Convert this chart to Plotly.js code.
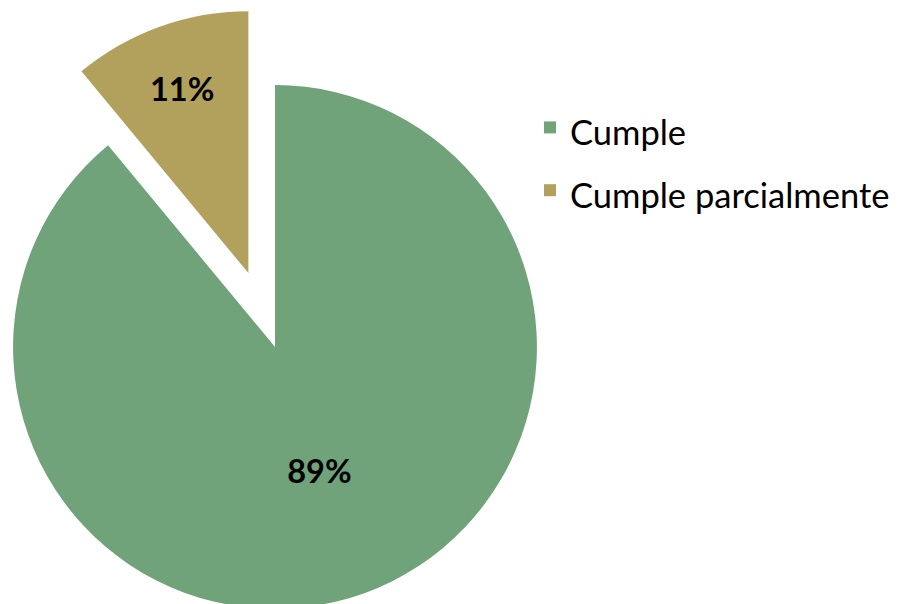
<!DOCTYPE html>
<html>
<head>
<meta charset="utf-8">
<script src="https://cdn.plot.ly/plotly-3.0.1.min.js"></script>
<style>
html, body { margin: 0; padding: 0; overflow: hidden; background: #ffffff; width: 899px; height: 604px; }
#chart { position: absolute; left: -100px; top: -100px; width: 1100px; height: 1000px; }
</style>
</head>
<body>
<div id="chart"></div>
<script>
const categories = ['Cumple', 'Cumple parcialmente'];
const values = [89, 11];
const colors = ['#71A37A', '#B2A15C'];
const pulls = [0, 0.30];

const W = 1100, H = 1000;
const cx = 375, cy = 447, half = 340.5;

const trace = {
  type: 'pie',
  labels: categories.map(c => '<span style="font-size:34.5px">' + c + '</span>'),
  values: values,
  marker: { colors: colors, line: { width: 0 } },
  pull: pulls,
  sort: false,
  direction: 'clockwise',
  rotation: 0,
  textinfo: 'percent',
  textposition: 'inside',
  insidetextorientation: 'horizontal',
  textfont: { family: 'Lato', size: 32.5, weight: 'bold', color: '#000000' },
  hoverinfo: 'label+percent',
  domain: { x: [(cx - half) / W, (cx + half) / W], y: [1 - (cy + half) / H, 1 - (cy - half) / H] }
};

const layout = {
  width: W, height: H,
  margin: { l: 0, r: 0, t: 0, b: 0 },
  paper_bgcolor: '#ffffff',
  showlegend: true,
  legend: {
    x: 630 / W, xanchor: 'left',
    y: 1 - 191 / H, yanchor: 'top',
    font: { family: 'Lato', size: 46, color: '#000000' },
    bgcolor: 'rgba(0,0,0,0)'
  }
};

Plotly.newPlot('chart', [trace], layout, { displayModeBar: false, staticPlot: true });
</script>
</body>
</html>
